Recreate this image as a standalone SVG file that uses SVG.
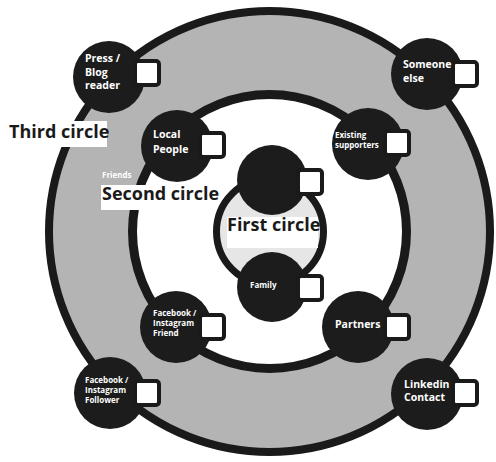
<svg xmlns="http://www.w3.org/2000/svg" width="496" height="462" viewBox="0 0 496 462">
<style>
.ring{stroke:#1a1a1a}
.node{fill:#1c1c1c}
.sq{fill:#fff;stroke:#1a1a1a;stroke-width:4}
.t{font-family:"Open Sans","Liberation Sans",sans-serif;font-weight:bold;fill:#fff}
.s{font-size:10.5px}
.xs{font-size:8px}
.lbl{font-family:"Open Sans","Liberation Sans",sans-serif;font-weight:bold;font-size:18px;fill:#1a1a1a}
</style>
<rect width="496" height="462" fill="#fff"/>
<g id="rings">
<circle class="ring" cx="269.5" cy="231.5" r="220.5" fill="#b4b4b4" stroke-width="8"/>
<circle class="ring" cx="269.5" cy="231.5" r="137" fill="#fff" stroke-width="9"/>
<circle class="ring" cx="270" cy="231.5" r="53.5" fill="#e6e6e6" stroke-width="7"/>
</g>
<g id="connectors"></g>
<g id="press"><circle class="node" cx="109" cy="77" r="36"/><rect class="sq" x="135" y="61" width="24" height="24" rx="3"/><text class="t s" x="85"><tspan x="85" y="62">Press /</tspan><tspan x="85" y="76">Blog</tspan><tspan x="85" y="89">reader</tspan></text></g>
<g id="someone"><circle class="node" cx="427" cy="74" r="36"/><rect class="sq" x="453" y="62" width="24" height="24" rx="3"/><text class="t s"><tspan x="403" y="68">Someone</tspan><tspan x="403" y="82">else</tspan></text></g>
<g id="local"><circle class="node" cx="177" cy="146" r="36"/><rect class="sq" x="200" y="133" width="24" height="24" rx="3"/><text class="t s"><tspan x="153" y="138">Local</tspan><tspan x="153" y="153">People</tspan></text></g>
<g id="existing"><circle class="node" cx="368" cy="144" r="36"/><rect class="sq" x="385" y="131" width="24" height="24" rx="3"/><text class="t xs"><tspan x="335" y="138">Existing</tspan><tspan x="335" y="148">supporters</tspan></text></g>
<g id="inner-top"><circle class="node" cx="272" cy="180" r="35"/><rect class="sq" x="298" y="170" width="24" height="24" rx="3"/></g>
<g id="family"><circle class="node" cx="272" cy="287" r="35"/><rect class="sq" x="298" y="276" width="24" height="24" rx="3"/><text class="t xs" x="250" y="288">Family</text></g>
<g id="fb-friend"><circle class="node" cx="176" cy="327" r="36"/><rect class="sq" x="200" y="315" width="24" height="24" rx="3"/><text class="t xs"><tspan x="153" y="316">Facebook /</tspan><tspan x="153" y="326">Instagram</tspan><tspan x="153" y="336">Friend</tspan></text></g>
<g id="partners"><circle class="node" cx="358" cy="327" r="36"/><rect class="sq" x="385" y="315" width="24" height="24" rx="3"/><text class="t s" x="335" y="328">Partners</text></g>
<g id="fb-follower"><circle class="node" cx="110" cy="393" r="36"/><rect class="sq" x="135" y="381" width="24" height="24" rx="3"/><text class="t xs"><tspan x="85" y="383">Facebook /</tspan><tspan x="85" y="393">Instagram</tspan><tspan x="85" y="403">Follower</tspan></text></g>
<g id="linkedin"><circle class="node" cx="427" cy="394" r="36"/><rect class="sq" x="453" y="381" width="24" height="24" rx="3"/><text class="t s"><tspan x="404" y="388">Linkedin</tspan><tspan x="404" y="401">Contact</tspan></text></g>
<g id="labels">
<rect x="0" y="121" width="107" height="26" fill="#fff"/>
<text class="lbl" x="9" y="138">Third circle</text>
<text class="t xs" x="102" y="178" fill="#eee">Friends</text>
<rect x="101" y="185" width="115" height="25" fill="#fff"/>
<text class="lbl" x="102" y="200">Second circle</text>
<rect x="227" y="217" width="91" height="31" fill="#fff"/>
<text class="lbl" x="227" y="231">First circle</text>
</g>
</svg>
